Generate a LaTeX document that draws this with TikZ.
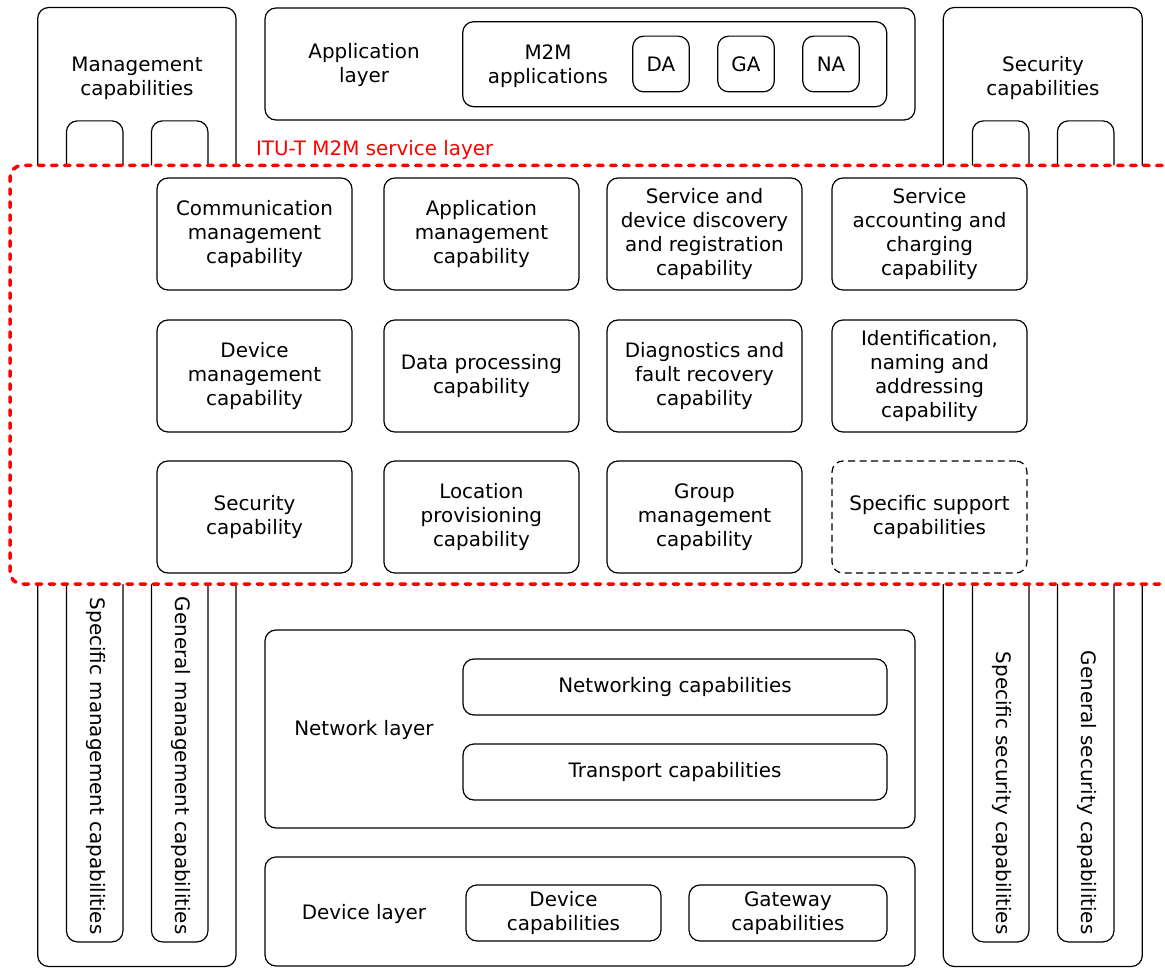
\documentclass[tikz,border=0pt]{standalone}
\usepackage{fontspec}
\setmainfont{DejaVu Sans}
\begin{document}
\begin{tikzpicture}[x=1pt,y=-1pt,
  every node/.style={font=\fontsize{19.9}{24}\selectfont, align=center, inner sep=0pt, outer sep=0pt},
  frame/.style={draw=black, line width=1.2pt, rounded corners=11pt, fill=white},
  capbox/.style={frame, minimum width=195pt, minimum height=112pt},
  optbox/.style={capbox, dash pattern=on 7pt off 4.5pt},
  strip/.style={frame, minimum width=56.5pt, minimum height=821pt},
  vlabel/.style={rotate=-90, anchor=east},
  servicebox/.style={draw=red, line width=3.5pt, line cap=round, dash pattern=on 5.5pt off 7.5pt,
    rounded corners=12pt, fill=white, minimum width=1164pt, minimum height=418.5pt},
  redlabel/.style={text=red, anchor=base west}
]
\path[fill=white] (0,0) rectangle (1165,968);
\clip (0,0) rectangle (1165,968);

% management column
\node[frame, minimum width=198.3pt, minimum height=959pt] (mgmt) at (136.85,487) {};
\node (mgmtlbl) at (137,78.5) {Management\\capabilities};
\node[strip] (mspec) at (94.7,531.4) {};
\node[strip] (mgen) at (179.7,531.4) {};
\node[vlabel] (mspeclbl) at (95.5,934.5) {Specific management capabilities};
\node[vlabel] (mgenlbl) at (180.5,934.5) {General management capabilities};

% security column
\node[frame, minimum width=199pt, minimum height=959pt] (sec) at (1042.8,487) {};
\node (seclbl) at (1043,78.5) {Security\\capabilities};
\node[strip] (sspec) at (1000.65,531.4) {};
\node[strip] (sgen) at (1085.65,531.4) {};
\node[vlabel] (sspeclbl) at (1001.5,934.5) {Specific security capabilities};
\node[vlabel] (sgenlbl) at (1086.5,934.5) {General security capabilities};

% service layer
\node[servicebox] (svc) at (592,374.75) {};
\node[redlabel] (svclbl) at (256,155.5) {ITU-T M2M service layer};

\node[capbox] (c11) at (254.5,234) {Communication\\management\\capability};
\node[capbox] (c12) at (481.4,234) {Application\\management\\capability};
\node[capbox] (c13) at (704.5,234) {Service and\\device discovery\\and registration\\capability};
\node[capbox] (c14) at (929.5,234) {Service\\accounting and\\charging\\capability};

\node[capbox] (c21) at (254.5,376) {Device\\management\\capability};
\node[capbox] (c22) at (481.4,376) {Data processing\\capability};
\node[capbox] (c23) at (704.5,376) {Diagnostics and\\fault recovery\\capability};
\node[capbox] (c24) at (929.5,376) {Identification,\\naming and\\addressing\\capability};

\node[capbox] (c31) at (254.5,517) {Security\\capability};
\node[capbox] (c32) at (481.4,517) {Location\\provisioning\\capability};
\node[capbox] (c33) at (704.5,517) {Group\\management\\capability};
\node[optbox] (c34) at (929.5,517) {Specific support\\capabilities};

% application layer
\node[frame, minimum width=650pt, minimum height=112pt] (app) at (590,64) {};
\node (applbl) at (364,65.5) {Application\\layer};
\node[frame, minimum width=424pt, minimum height=85pt] (m2m) at (674.7,64.2) {};
\node (m2mlbl) at (548,66.5) {M2M\\applications};
\node[frame, minimum width=56.6pt, minimum height=55.7pt] (da) at (661,64) {DA};
\node[frame, minimum width=56.6pt, minimum height=55.7pt] (ga) at (746,64) {GA};
\node[frame, minimum width=56.6pt, minimum height=55.7pt] (na) at (831,64) {NA};

% network layer
\node[frame, minimum width=650pt, minimum height=198pt] (net) at (590,729) {};
\node (netlbl) at (364,730.5) {Network layer};
\node[frame, minimum width=424pt, minimum height=56pt] (netcap) at (675,687) {Networking capabilities};
\node[frame, minimum width=424pt, minimum height=56pt] (trcap) at (675,772) {Transport capabilities};

% device layer
\node[frame, minimum width=650pt, minimum height=109pt] (dev) at (590,911.5) {};
\node (devlbl) at (364,914.5) {Device layer};
\node[frame, minimum width=195pt, minimum height=56pt] (devcap) at (563.5,913) {Device\\capabilities};
\node[frame, minimum width=198pt, minimum height=56pt] (gwcap) at (788,913) {Gateway\\capabilities};
\end{tikzpicture}
\end{document}
